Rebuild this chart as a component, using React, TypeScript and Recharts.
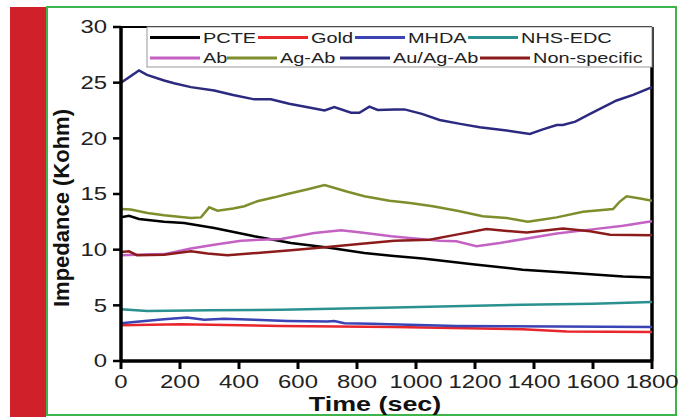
import React from 'react';
import { LineChart, Line, XAxis, YAxis, ReferenceLine } from 'recharts';

// ---- data (time in sec, impedance in Kohm) ----
const pcteTime = [0, 27, 61, 146, 214, 316, 452, 576, 700, 825, 916, 1023, 1192, 1362, 1532, 1702, 1800];
const pcteValue = [12.9, 13.05, 12.75, 12.5, 12.4, 11.95, 11.2, 10.6, 10.2, 9.7, 9.45, 9.2, 8.7, 8.2, 7.9, 7.6, 7.5];

const goldTime = [0, 203, 543, 927, 1362, 1511, 1800];
const goldValue = [3.2, 3.3, 3.15, 3.05, 2.85, 2.65, 2.6];

const mhdaTime = [0, 44, 146, 224, 282, 350, 452, 564, 700, 723, 757, 848, 910, 1137, 1477, 1800];
const mhdaValue = [3.4, 3.5, 3.75, 3.9, 3.7, 3.8, 3.7, 3.6, 3.55, 3.6, 3.4, 3.35, 3.3, 3.15, 3.1, 3.05];

const nhsTime = [0, 89, 300, 543, 927, 1362, 1600, 1800];
const nhsValue = [4.65, 4.5, 4.55, 4.6, 4.8, 5.05, 5.15, 5.3];

const abTime = [0, 54, 146, 237, 316, 407, 475, 543, 655, 746, 814, 916, 978, 1080, 1137, 1205, 1284, 1386, 1477, 1590, 1702, 1800];
const abValue = [9.5, 9.55, 9.6, 10.1, 10.45, 10.8, 10.9, 10.95, 11.5, 11.75, 11.55, 11.2, 11.05, 10.8, 10.75, 10.3, 10.6, 11.05, 11.45, 11.8, 12.15, 12.55];

const agAbTime = [0, 33, 90, 146, 237, 271, 299, 327, 380, 418, 462, 520, 564, 630, 690, 768, 825, 910, 980, 1057, 1140, 1226, 1307, 1379, 1430, 1477, 1566, 1668, 1690, 1714, 1760, 1800];
const agAbValue = [13.65, 13.6, 13.3, 13.1, 12.85, 12.9, 13.8, 13.5, 13.7, 13.9, 14.35, 14.7, 15.0, 15.4, 15.8, 15.2, 14.8, 14.4, 14.2, 13.9, 13.5, 13.0, 12.85, 12.5, 12.7, 12.9, 13.4, 13.65, 14.3, 14.8, 14.6, 14.4];

const auAgAbTime = [0, 61, 88, 146, 180, 237, 316, 380, 452, 508, 570, 633, 690, 723, 780, 808, 842, 870, 927, 961, 1020, 1080, 1150, 1216, 1307, 1386, 1430, 1477, 1498, 1540, 1590, 1680, 1736, 1800];
const auAgAbValue = [25.0, 26.1, 25.7, 25.2, 24.95, 24.6, 24.3, 23.9, 23.5, 23.5, 23.1, 22.8, 22.5, 22.8, 22.3, 22.3, 22.85, 22.55, 22.6, 22.6, 22.2, 21.65, 21.3, 21.0, 20.7, 20.4, 20.8, 21.2, 21.2, 21.5, 22.2, 23.4, 23.9, 24.6];

const nonSpecTime = [0, 27, 54, 146, 237, 293, 361, 462, 576, 700, 825, 927, 1046, 1137, 1239, 1300, 1375, 1498, 1590, 1658, 1800];
const nonSpecValue = [9.8, 9.85, 9.5, 9.55, 9.85, 9.65, 9.5, 9.7, 9.95, 10.25, 10.55, 10.8, 10.9, 11.35, 11.85, 11.7, 11.55, 11.9, 11.65, 11.35, 11.3];

const xTicks = [0, 200, 400, 600, 800, 1000, 1200, 1400, 1600, 1800];
const xMinorTicks = [100, 300, 500, 700, 900, 1100, 1300, 1500, 1700];
const yTicks = [0, 5, 10, 15, 20, 25, 30];
const yMinorTicks = [2.5, 7.5, 12.5, 17.5, 22.5, 27.5];

const toPoints = (ts: number[], vs: number[]) => ts.map((t, i) => ({ t, v: vs[i] }));

const series = [
  { name: 'PCTE', color: '#000000', data: toPoints(pcteTime, pcteValue) },
  { name: 'Gold', color: '#e8262c', data: toPoints(goldTime, goldValue) },
  { name: 'MHDA', color: '#3a44b4', data: toPoints(mhdaTime, mhdaValue) },
  { name: 'NHS-EDC', color: '#2a9090', data: toPoints(nhsTime, nhsValue) },
  { name: 'Ab', color: '#c462c4', data: toPoints(abTime, abValue) },
  { name: 'Ag-Ab', color: '#7f8e2c', data: toPoints(agAbTime, agAbValue) },
  { name: 'Au/Ag-Ab', color: '#2c2a80', data: toPoints(auAgAbTime, auAgAbValue) },
  { name: 'Non-specific', color: '#8c1c1c', data: toPoints(nonSpecTime, nonSpecValue) },
];

const FONT = '"Liberation Sans", Arial, sans-serif';

const XTick = (props: any) => {
  const { x, y, payload } = props;
  return (
    <g transform={`translate(${x},${y})`}>
      <text transform="scale(1.33,1)" x={0} y={17} textAnchor="middle" fontFamily={FONT} fontSize={18} fill="#222">
        {payload.value}
      </text>
    </g>
  );
};

const YTick = (props: any) => {
  const { x, y, payload } = props;
  return (
    <g transform={`translate(${x - 4},${y})`}>
      <text transform="scale(1.33,1)" x={0} y={6.4} textAnchor="end" fontFamily={FONT} fontSize={18} fill="#222">
        {payload.value}
      </text>
    </g>
  );
};

// legend layout (pixel positions of each entry's sample line start)
const legendRowY = [37.5, 58];
const legendStartX = [150, 258, 355, 468, 150, 227, 340, 480];
const legendLineLen = 50;

export default function App() {
  return (
    <div style={{ position: 'absolute', left: 0, top: 0, width: 680, height: 417, background: '#fff', overflow: 'hidden' }}>
      <div style={{ position: 'absolute', left: 10, top: 7, width: 36, height: 410, background: '#d0202a' }} />
      <div
        style={{
          position: 'absolute',
          left: 46,
          top: 6,
          width: 627,
          height: 406,
          border: '2px solid #3db54a',
        }}
      />
      <div style={{ position: 'absolute', left: 0, top: 0 }}>
        <LineChart width={680} height={417} margin={{ top: 27, right: 28, bottom: 26, left: 61 }}>
          <XAxis
            xAxisId="minor"
            dataKey="t"
            type="number"
            domain={[0, 1800]}
            allowDataOverflow
            ticks={xMinorTicks}
            interval={0}
            height={0}
            axisLine={false}
            tick={false}
            tickSize={5}
            tickLine={{ stroke: '#000', strokeWidth: 3 }}
          />
          <XAxis
            dataKey="t"
            type="number"
            domain={[0, 1800]}
            allowDataOverflow
            ticks={xTicks}
            interval={0}
            height={30}
            axisLine={{ stroke: '#000', strokeWidth: 3.5 }}
            tickLine={{ stroke: '#000', strokeWidth: 3 }}
            tickSize={8}
            tick={<XTick />}
          />
          <YAxis
            yAxisId="minor"
            type="number"
            domain={[0, 30]}
            allowDataOverflow
            ticks={yMinorTicks}
            interval={0}
            width={0}
            axisLine={false}
            tick={false}
            tickSize={4}
            tickLine={{ stroke: '#000', strokeWidth: 2.5 }}
          />
          <YAxis
            type="number"
            domain={[0, 30]}
            allowDataOverflow
            ticks={yTicks}
            interval={0}
            width={60}
            axisLine={{ stroke: '#000', strokeWidth: 3.5 }}
            tickLine={{ stroke: '#000', strokeWidth: 2.5 }}
            tickSize={8}
            tick={<YTick />}
          />
          <ReferenceLine y={30} stroke="#000" strokeWidth={2} />
          <ReferenceLine x={1800} stroke="#000" strokeWidth={3.5} />
          {series.map((s) => (
            <Line
              key={s.name}
              data={s.data}
              dataKey="v"
              name={s.name}
              type="linear"
              stroke={s.color}
              strokeWidth={2.5}
              dot={false}
              activeDot={false}
              isAnimationActive={false}
            />
          ))}
        </LineChart>
      </div>
      <svg
        width={680}
        height={417}
        style={{ position: 'absolute', left: 0, top: 0, pointerEvents: 'none' }}
      >
        <rect x={147} y={27} width={505} height={40} fill="#fff" stroke="#999" strokeWidth={1} />
        {series.map((s, i) => {
          const row = i < 4 ? 0 : 1;
          const x0 = legendStartX[i];
          const cy = legendRowY[row];
          return (
            <g key={s.name}>
              <line x1={x0} x2={x0 + legendLineLen} y1={cy} y2={cy} stroke={s.color} strokeWidth={3} />
              <g transform={`translate(${x0 + legendLineLen + 3},${cy + 5.3})`}>
                <text transform="scale(1.33,1)" x={0} y={0} fontFamily={FONT} fontSize={15} fill="#222">
                  {s.name}
                </text>
              </g>
            </g>
          );
        })}
        <text
          transform="translate(69,208) rotate(-90)"
          textAnchor="middle"
          fontFamily={FONT}
          fontSize={22}
          fontWeight="bold"
          fill="#111"
        >
          Impedance (Kohm)
        </text>
        <g transform="translate(375,411)">
          <text transform="scale(1.28,1)" textAnchor="middle" fontFamily={FONT} fontSize={21} fontWeight="bold" fill="#111">
            Time (sec)
          </text>
        </g>
      </svg>
    </div>
  );
}
